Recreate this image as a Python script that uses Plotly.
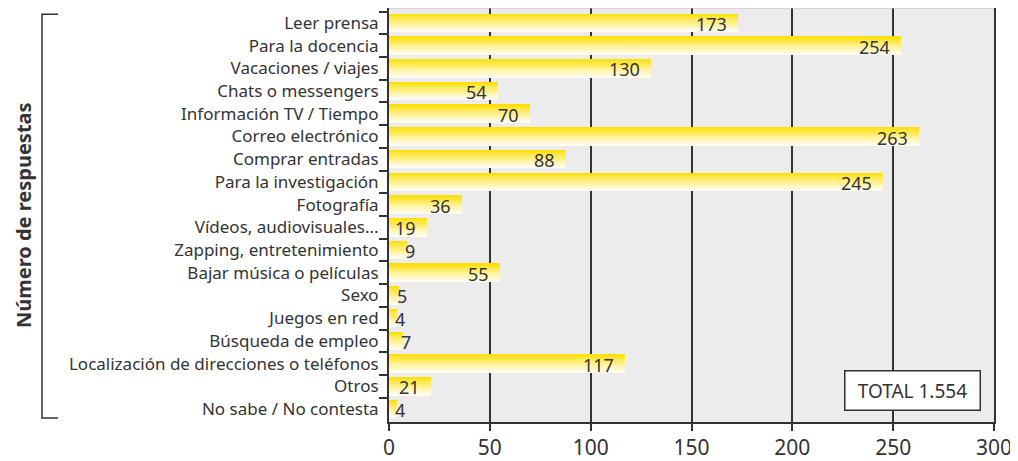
import plotly.graph_objects as go

categories = ['Leer prensa', 'Para la docencia', 'Vacaciones / viajes', 'Chats o messengers',
              'Información TV / Tiempo', 'Correo electrónico', 'Comprar entradas',
              'Para la investigación', 'Fotografía', 'Vídeos, audiovisuales...',
              'Zapping, entretenimiento', 'Bajar música o películas', 'Sexo', 'Juegos en red',
              'Búsqueda de empleo', 'Localización de direcciones o teléfonos', 'Otros',
              'No sabe / No contesta']
values = [173, 254, 130, 54, 70, 263, 88, 245, 36, 19, 9, 55, 5, 4, 7, 117, 21, 4]
x_ticks = [0, 50, 100, 150, 200, 250, 300]
total_label = 'TOTAL 1.554'

dark = '#333333'
font_family = 'Noto Sans'

fig = go.Figure()

# vertical yellow -> white gradient, built from thin overlaid slices
n_slices = 16
bar_w = 0.78
top_rgb = (255, 222, 0)
bot_rgb = (255, 253, 238)
for k in range(n_slices):
    t = (k / (n_slices - 1)) ** 0.85
    rgb = tuple(round(a + (b - a) * t) for a, b in zip(top_rgb, bot_rgb))
    fig.add_trace(go.Bar(
        x=values, y=categories, orientation='h',
        offset=-bar_w / 2 + k * bar_w / n_slices,
        width=bar_w / n_slices * 1.08,
        marker=dict(color='rgb(%d,%d,%d)' % rgb, line=dict(width=0)),
        showlegend=False, hoverinfo='skip',
    ))

annotations = []
for cat, v in zip(categories, values):
    if v < 10:
        annotations.append(dict(x=v, y=cat, text=str(v), showarrow=False,
                                xanchor='center', xshift=3, yshift=-1,
                                font=dict(size=18, color=dark, family=font_family)))
    else:
        annotations.append(dict(x=v, y=cat, text=str(v), showarrow=False,
                                xanchor='right', xshift=-9, yshift=-1,
                                font=dict(size=18, color=dark, family=font_family)))

annotations.append(dict(x=0.866, y=0.075, xref='paper', yref='paper', text=total_label,
                        showarrow=False, xanchor='center', yanchor='middle',
                        width=120, height=24, borderpad=7,
                        bgcolor='white', bordercolor=dark, borderwidth=1.5,
                        font=dict(size=19, color=dark, family=font_family)))
annotations.append(dict(x=-0.605, y=0.5, xref='paper', yref='paper',
                        text='<b>Número de respuestas</b>', textangle=-90,
                        showarrow=False, xanchor='center', yanchor='middle',
                        font=dict(size=20, color=dark, family=font_family)))

shapes = [
    # bracket beside the axis title
    dict(type='path', xref='paper', yref='paper',
         path='M -0.547 0.985 L -0.5736 0.985 L -0.5736 0.0096 L -0.547 0.0096',
         line=dict(color=dark, width=1.5)),
    # thin top border of the plot area
    dict(type='line', xref='paper', yref='paper', x0=0, x1=1, y0=1, y1=1,
         line=dict(color='#bbbbbb', width=1)),
]

# the page body adds an 8px offset, so the figure is 8px smaller on each axis
fig.update_layout(
    width=1010, height=453,
    margin=dict(l=381, r=24, t=0, b=39),
    paper_bgcolor='white', plot_bgcolor='#ececec',
    barmode='overlay', bargap=0,
    annotations=annotations, shapes=shapes,
    font=dict(family=font_family, color=dark),
)
fig.update_xaxes(
    range=[0, 300], tickvals=x_ticks, ticktext=[str(t) for t in x_ticks],
    showgrid=True, gridcolor=dark, gridwidth=1.5, zeroline=False,
    showline=True, linecolor=dark, linewidth=2,
    ticks='outside', ticklen=7, tickwidth=1.5, tickcolor=dark,
    ticklabelstandoff=-1, automargin=False,
    tickfont=dict(size=21, color=dark, family=font_family),
)
fig.update_yaxes(
    type='category', autorange='reversed', categoryorder='array', categoryarray=categories,
    showgrid=False, zeroline=False,
    showline=True, linecolor=dark, linewidth=2, mirror=True,
    ticks='outside', tickson='boundaries', ticklen=8, tickwidth=1.5, tickcolor=dark,
    ticklabelstandoff=5, automargin=False,
    tickfont=dict(size=17, color=dark, family=font_family),
)

fig.write_html("out.html")
